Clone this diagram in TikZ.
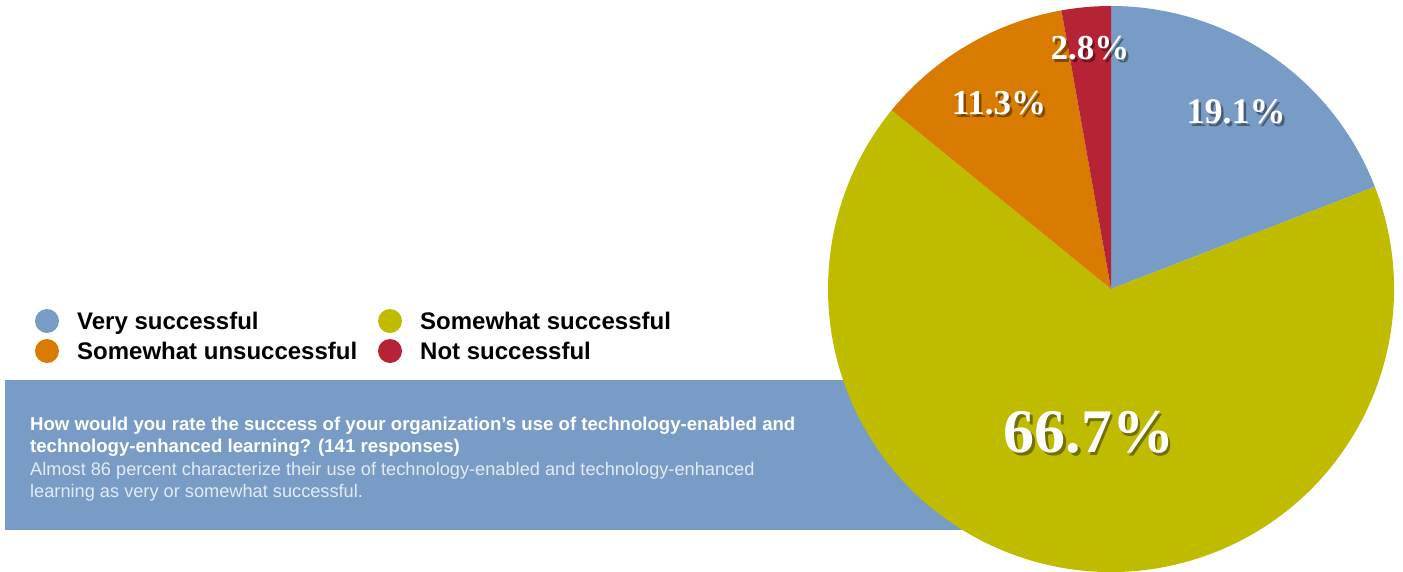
\documentclass[tikz,border=0pt]{standalone}
\usepackage{fontspec}
\setmainfont{Liberation Sans}
\newfontfamily\pctfont{Liberation Serif}
\definecolor{cblue}{RGB}{120,156,198}
\definecolor{colive}{RGB}{191,188,0}
\definecolor{corange}{RGB}{216,123,0}
\definecolor{cred}{RGB}{181,35,53}
\definecolor{csub}{RGB}{228,235,244}
\tikzset{
  legdot/.style={circle,inner sep=0pt,minimum width=22pt,minimum height=24pt},
  legtext/.style={anchor=base west,inner sep=0pt,font=\fontsize{24}{28}\selectfont\bfseries},
  qtext/.style={anchor=base west,inner sep=0pt,text=white,font=\fontsize{18.6}{22}\selectfont\bfseries},
  stext/.style={anchor=base west,inner sep=0pt,text=csub,font=\fontsize{18.2}{22}\selectfont},
  pct/.style={inner sep=0pt,text=white,font=\pctfont\bfseries\fontsize{#1}{#1}\selectfont},
  pctsh/.style={inner sep=0pt,text=black,opacity=0.4,font=\pctfont\bfseries\fontsize{#1}{#1}\selectfont}
}
\newcommand{\pctlabel}[4]{%
  \node[pctsh=#2,xshift=2.5pt,yshift=-3pt] at #3 {#4};
  \node[pct=#2] (#1) at #3 {#4};
}
\begin{document}
\begin{tikzpicture}[x=1pt,y=-1pt]
\useasboundingbox (0,0) rectangle (1403,571);
% banner
\fill[cblue] (5,380) rectangle (1000,530);
\node[qtext] (q1) at (30,430) {How would you rate the success of your organization’s use of technology-enabled and};
\node[qtext] (q2) at (30,452) {technology-enhanced learning? (141 responses)};
\node[stext] (s1) at (30,475) {Almost 86 percent characterize their use of technology-enabled and technology-enhanced};
\node[stext] (s2) at (30,497) {learning as very or somewhat successful.};
% legend
\node[legdot,fill=cblue] (d1) at (47,321) {};
\node[legtext] (l1) at (77,329) {Very successful};
\node[legdot,fill=corange] (d2) at (47,351) {};
\node[legtext] (l2) at (77,359) {Somewhat unsuccessful};
\node[legdot,fill=colive] (d3) at (390,321) {};
\node[legtext] (l3) at (420,329) {Somewhat successful};
\node[legdot,fill=cred] (d4) at (390,351) {};
\node[legtext] (l4) at (420,359) {Not successful};
% pie
\coordinate (c) at (1111,289);
\fill[cblue] (c) -- ++(-90:283) arc[start angle=-90, end angle=-21.17, radius=283] -- cycle;
\fill[colive] (c) -- ++(-21.17:283) arc[start angle=-21.17, end angle=219.19, radius=283] -- cycle;
\fill[corange] (c) -- ++(-140.81:283) arc[start angle=-140.81, end angle=-100.09, radius=283] -- cycle;
\fill[cred] (c) -- ++(-100.09:283) arc[start angle=-100.09, end angle=-90, radius=283] -- cycle;
% labels
\pctlabel{p1}{36}{(1236,112)}{19.1\%}
\pctlabel{p2}{35}{(1090,48)}{2.8\%}
\pctlabel{p3}{35}{(999,103)}{11.3\%}
\pctlabel{p4}{62}{(1089,432)}{66.7\%}
\end{tikzpicture}
\end{document}
